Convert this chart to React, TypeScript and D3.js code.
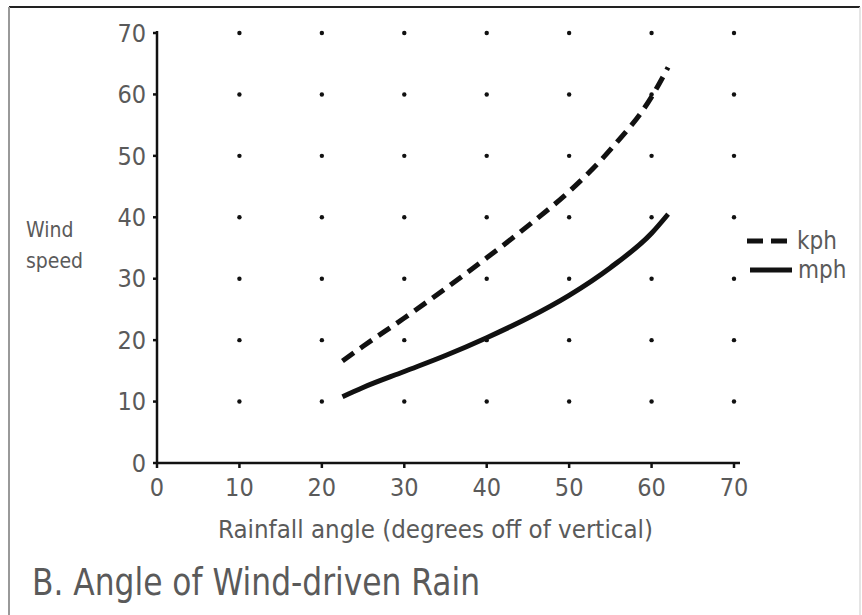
import React from "react";
import * as d3 from "d3";

const angles = [22.5, 25, 30, 35, 40, 45, 50, 55, 60, 62];
const kph = [16.6, 19, 23.6, 28.4, 33.4, 38.6, 44.2, 51, 59.6, 64.4];
const mph = [10.8, 12.3, 14.9, 17.5, 20.4, 23.6, 27.3, 31.8, 37.4, 40.5];
const xTicks = [0, 10, 20, 30, 40, 50, 60, 70];
const yTicks = [0, 10, 20, 30, 40, 50, 60, 70];
const dotX = [10, 20, 30, 40, 50, 60, 70];
const dotY = [10, 20, 30, 40, 50, 60, 70];
const legendItems = ["kph", "mph"];

const FONT = "'Liberation Sans Narrow', 'DejaVu Sans Condensed', 'Open Sans', sans-serif";
const TXT = "#5a5a5a";

export default function App() {
  const x = d3.scaleLinear().domain([0, 70]).range([157, 734]);
  const y = d3.scaleLinear().domain([0, 70]).range([463, 33]);
  const line = d3
    .line<number>()
    .x((_, i) => x(angles[i]))
    .y((d) => y(d))
    .curve(d3.curveMonotoneX);

  return (
    <svg
      width={862}
      height={615}
      style={{ position: "absolute", left: 0, top: 0, background: "#fff" }}
    >
      <rect x={0} y={0} width={862} height={615} fill="#fff" />
      {/* frame */}
      <line x1={9} y1={7} x2={860} y2={7} stroke="#222" strokeWidth={2} />
      <line x1={9} y1={7} x2={9} y2={615} stroke="#999" strokeWidth={2} />
      <line x1={860} y1={7} x2={860} y2={615} stroke="#ddd" strokeWidth={1.5} />

      {/* dots */}
      {dotX.map((dx) =>
        dotY.map((dy) => (
          <circle key={`${dx}-${dy}`} cx={x(dx)} cy={y(dy)} r={2.2} fill="#111" />
        ))
      )}

      {/* axes */}
      <line x1={x(0)} y1={y(70) - 2} x2={x(0)} y2={y(0)} stroke="#111" strokeWidth={2.5} />
      <line x1={x(0)} y1={y(0)} x2={x(70) + 6} y2={y(0)} stroke="#111" strokeWidth={2.5} />
      {yTicks.map((t) => (
        <g key={`yt${t}`}>
          <line x1={x(0) - 4} x2={x(0)} y1={y(t)} y2={y(t)} stroke="#111" strokeWidth={2.5} />
          <text
            x={x(0) - 11}
            y={y(t)}
            dy="0.35em"
            textAnchor="end"
            fontFamily={FONT}
            fontSize={25}
            fill={TXT}
          >
            {t}
          </text>
        </g>
      ))}
      {xTicks.map((t) => (
        <g key={`xt${t}`}>
          <line x1={x(t)} x2={x(t)} y1={y(0)} y2={y(0) + 5} stroke="#111" strokeWidth={2.5} />
          <text
            x={x(t)}
            y={496}
            textAnchor="middle"
            fontFamily={FONT}
            fontSize={25}
            fill={TXT}
          >
            {t}
          </text>
        </g>
      ))}

      {/* series */}
      <path
        d={line(kph) || ""}
        fill="none"
        stroke="#111"
        strokeWidth={5}
        strokeDasharray="14 8"
      />
      <path d={line(mph) || ""} fill="none" stroke="#111" strokeWidth={5} />

      {/* legend */}
      <line x1={747} x2={789} y1={241} y2={241} stroke="#111" strokeWidth={5} strokeDasharray="16 8" />
      <line x1={750} x2={792} y1={270} y2={270} stroke="#111" strokeWidth={5} />
      <text x={797} y={249} fontFamily={FONT} fontSize={24} fill={TXT}>
        {legendItems[0]}
      </text>
      <text x={798} y={278} fontFamily={FONT} fontSize={24} fill={TXT}>
        {legendItems[1]}
      </text>

      {/* axis titles */}
      <text x={26} y={237} fontFamily={FONT} fontSize={21} fill={TXT}>
        Wind
      </text>
      <text x={26} y={268} fontFamily={FONT} fontSize={21} fill={TXT}>
        speed
      </text>
      <text
        x={218}
        y={538}
        fontFamily={FONT}
        fontSize={24}
        fill={TXT}
        textLength={435}
        lengthAdjust="spacingAndGlyphs"
      >
        Rainfall angle (degrees off of vertical)
      </text>

      {/* title */}
      <text
        x={32}
        y={595}
        fontFamily={FONT}
        fontSize={37}
        fill={TXT}
        textLength={448}
        lengthAdjust="spacingAndGlyphs"
      >
        B. Angle of Wind-driven Rain
      </text>
    </svg>
  );
}
